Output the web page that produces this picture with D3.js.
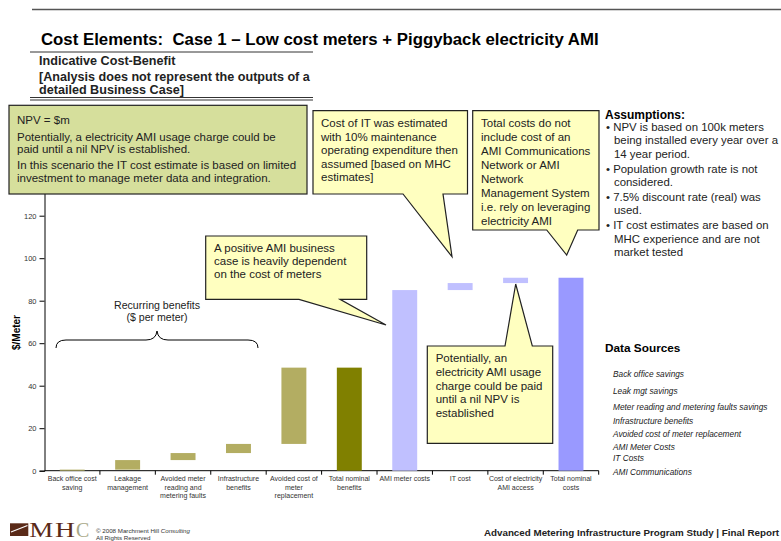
<!DOCTYPE html>
<html>
<head>
<meta charset="utf-8">
<script src="https://cdn.jsdelivr.net/npm/d3@7"></script>
<style>
  body { margin: 0; background: #fff; }
  svg { font-family: "Liberation Sans", Arial, sans-serif; display: block; }
</style>
</head>
<body>
<div id="chart"></div>
<script>
// chart data (waterfall: each bar runs from base to top, $/meter)
const categories = ['Back office cost saving', 'Leakage management', 'Avoided meter reading and metering faults',
  'Infrastructure benefits', 'Avoided cost of meter replacement', 'Total nominal benefits',
  'AMI meter costs', 'IT cost', 'Cost of electricity AMI access', 'Total nominal costs'];
const catLabels = [['Back office cost', 'saving'], ['Leakage', 'management'], ['Avoided meter', 'reading and', 'metering faults'],
  ['Infrastructure', 'benefits'], ['Avoided cost of', 'meter', 'replacement'], ['Total nominal', 'benefits'],
  ['AMI meter costs'], ['IT cost'], ['Cost of electricity', 'AMI access'], ['Total nominal', 'costs']];
const barBase = [0, 0.5, 5, 8.3, 12.6, 0, 0, 85, 88.3, 0];
const barTop = [0.5, 5, 8.3, 12.6, 48.5, 48.5, 85, 88.3, 90.8, 90.8];
const barKind = ['benefit', 'benefit', 'benefit', 'benefit', 'benefit', 'totalBenefit', 'cost', 'cost', 'cost', 'totalCost'];
const yTicks = [0, 20, 40, 60, 80, 100, 120];

const assumptions = [
  ['NPV is based on 100k meters', 'being installed every year over a', '14 year period.'],
  ['Population growth rate is not', 'considered.'],
  ['7.5% discount rate (real) was', 'used.'],
  ['IT cost estimates are based on', 'MHC experience and are not', 'market tested']
];
const dataSources = ['Back office savings', 'Leak mgt savings', 'Meter reading and metering faults savings',
  'Infrastructure benefits', 'Avoided cost of meter replacement', 'AMI Meter Costs', 'IT Costs', 'AMI Communications'];

const colors = { benefit: '#b3ad62', totalBenefit: '#808000', cost: '#c0c0ff', totalCost: '#9999ff' };

let svgWidth = 781;
let svgHeight = 541;

let svg = d3.select('#chart').append('svg')
  .attr('width', svgWidth)
  .attr('height', svgHeight);

// header
svg.append('line').attr('x1', 32).attr('x2', 781).attr('y1', 9.5).attr('y2', 9.5)
  .attr('stroke', '#555').attr('stroke-width', 1.5);
svg.append('text').attr('x', 41).attr('y', 44.5)
  .style('white-space', 'pre')
  .attr('font-size', '16.8px').attr('font-weight', 'bold').attr('fill', '#000')
  .text('Cost Elements:  Case 1 \u2013 Low cost meters + Piggyback electricity AMI');
svg.append('line').attr('x1', 30).attr('x2', 313).attr('y1', 52).attr('y2', 52)
  .attr('stroke', '#333').attr('stroke-width', 1);
let sub = ['Indicative Cost-Benefit', '[Analysis does not represent the outputs of a', 'detailed Business Case]'];
svg.selectAll('.sub').data(sub).enter().append('text')
  .attr('x', 39).attr('y', (d, i) => [65, 81, 94][i])
  .attr('font-size', '12.6px').attr('font-weight', 'bold').attr('fill', '#222')
  .text(d => d);
svg.append('line').attr('x1', 30).attr('x2', 313).attr('y1', 97.5).attr('y2', 97.5).attr('stroke', '#333');
svg.append('line').attr('x1', 30).attr('x2', 313).attr('y1', 100).attr('y2', 100).attr('stroke', '#333');

// scales
let xScale = d3.scaleBand()
  .domain(categories)
  .range([44.5, 598.7])
  .paddingInner(0.55)
  .paddingOuter(0.275);
let yScale = d3.scaleLinear().domain([0, 140]).range([470.7, 173.2]);

// y axis
let yAxis = svg.append('g')
  .attr('transform', 'translate(44.5,0)')
  .call(d3.axisLeft(yScale).tickValues(yTicks).tickSize(5).tickPadding(3));
yAxis.select('.domain').attr('stroke', '#000');
yAxis.selectAll('.tick line').attr('stroke', '#000');
yAxis.selectAll('text').attr('font-size', '7.5px').attr('fill', '#333')
  .attr('font-family', '"Liberation Sans", Arial, sans-serif');

svg.append('text')
  .attr('transform', 'translate(20, 332.5) rotate(-90)')
  .attr('text-anchor', 'middle')
  .attr('font-size', '10px').attr('font-weight', 'bold')
  .text('$/Meter');

// x axis line + separator ticks
let x0 = xScale.range()[0], x1 = xScale.range()[1];
svg.append('line').attr('x1', x0).attr('x2', x1).attr('y1', yScale(0)).attr('y2', yScale(0))
  .attr('stroke', '#000');
let sepX = categories.map(c => xScale(c) - xScale.step() * xScale.paddingInner() / 2).slice(1).concat([x1]);
svg.selectAll('.sep').data(sepX).enter().append('line')
  .attr('x1', d => d).attr('x2', d => d)
  .attr('y1', yScale(0)).attr('y2', yScale(0) + 4)
  .attr('stroke', '#000');

// x labels
let labelGroups = svg.selectAll('.xlab').data(categories).enter().append('text')
  .attr('text-anchor', 'middle')
  .attr('font-size', '7px').attr('fill', '#333');
labelGroups.each(function (d, i) {
  let cx = xScale(d) + xScale.bandwidth() / 2;
  d3.select(this).selectAll('tspan').data(catLabels[i]).enter().append('tspan')
    .attr('x', cx)
    .attr('y', (t, j) => yScale(0) + 10.5 + j * 8.5)
    .text(t => t);
});

// bars
svg.selectAll('.bar').data(categories).enter().append('rect')
  .attr('x', d => xScale(d))
  .attr('width', xScale.bandwidth())
  .attr('y', (d, i) => yScale(barTop[i]))
  .attr('height', (d, i) => yScale(barBase[i]) - yScale(barTop[i]))
  .attr('fill', (d, i) => colors[barKind[i]]);

// brace for recurring benefits
svg.append('path')
  .attr('d', 'M56,348 Q56,340 66,340 L146,340 Q156,340 157,331 Q158,340 168,340 L248,340 Q258,340 258,348')
  .attr('fill', 'none').attr('stroke', '#000').attr('stroke-width', 1);
svg.selectAll('.rec').data(['Recurring benefits', '($ per meter)']).enter().append('text')
  .attr('x', 157).attr('y', (d, i) => 309 + i * 12)
  .attr('text-anchor', 'middle').attr('font-size', '10.6px').attr('fill', '#222')
  .text(d => d);

// callouts
function drawLines(lines, tx, ty, lh) {
  svg.append('g').selectAll('text').data(lines).enter().append('text')
    .attr('x', tx).attr('y', (d, i) => ty + i * lh)
    .attr('font-size', '11.5px').attr('fill', '#222')
    .text(d => d);
}
function callout(box, ptr, fill, lines, tx, ty, lh) {
  let [x, y, w, h] = box;
  let [b1, b2, tipX, tipY] = ptr;
  let p = `M${x},${y} H${x + w} V${y + h} H${b2} L${tipX},${tipY} L${b1},${y + h} H${x} Z`;
  svg.append('path').attr('d', p)
    .attr('fill', fill).attr('stroke', '#222').attr('stroke-width', 1.2);
  drawLines(lines, tx, ty, lh);
}
function calloutUp(box, ptr, fill, lines, tx, ty, lh) {
  let [x, y, w, h] = box;
  let [b1, b2, tipX, tipY] = ptr;
  let p = `M${x},${y} H${b1} L${tipX},${tipY} L${b2},${y} H${x + w} V${y + h} H${x} Z`;
  svg.append('path').attr('d', p)
    .attr('fill', fill).attr('stroke', '#222').attr('stroke-width', 1.2);
  drawLines(lines, tx, ty, lh);
}

// NPV box (green)
svg.append('rect').attr('x', 9).attr('y', 105.3).attr('width', 298).attr('height', 88.7)
  .attr('fill', '#d6df9c').attr('stroke', '#222').attr('stroke-width', 1.2);
let npvLines = [['NPV = $m', 124], ['Potentially, a electricity AMI usage charge could be', 140.5],
  ['paid until a nil NPV is established.', 153], ['In this scenario the IT cost estimate is based on limited', 169],
  ['investment to manage meter data and integration.', 181.5]];
svg.selectAll('.npv').data(npvLines).enter().append('text')
  .attr('x', 17).attr('y', d => d[1])
  .attr('font-size', '11.5px').attr('fill', '#222')
  .text(d => d[0]);

callout([313, 110.7, 154.5, 83.3], [403, 443, 452, 256.7], '#ffffc0',
  ['Cost of IT was estimated', 'with 10% maintenance', 'operating expenditure then', 'assumed [based on MHC', 'estimates]'],
  321, 127.3, 13.5);
callout([472.7, 110.7, 126.3, 119.3], [546.7, 577.7, 566.7, 255], '#ffffc0',
  ['Total costs do not', 'include cost of an', 'AMI Communications', 'Network or AMI', 'Network', 'Management System',
    'i.e. rely on leveraging', 'electricity AMI'],
  481, 127.3, 13.9);
callout([205.7, 236, 161, 63.3], [299, 340, 386, 325], '#ffffc0',
  ['A positive AMI business', 'case is heavily dependent', 'on the cost of meters'],
  214, 252.3, 12.9);
calloutUp([427.3, 346, 125.4, 97.3], [505, 532.3, 515.7, 284], '#ffffc0',
  ['Potentially, an', 'electricity AMI usage', 'charge could be paid', 'until a nil NPV is', 'established'],
  435.7, 362.3, 13.6);

// assumptions panel
svg.append('text').attr('x', 605).attr('y', 119)
  .attr('font-size', '12px').attr('font-weight', 'bold').text('Assumptions:');
let ay = 131;
assumptions.forEach(function (item) {
  item.forEach(function (line, j) {
    svg.append('text')
      .attr('x', j === 0 ? 606 : 614).attr('y', ay)
      .attr('font-size', '11.4px').attr('fill', '#222')
      .text(j === 0 ? '\u2022 ' + line : line);
    ay += 13.3;
  });
  ay += 1.7;
});

svg.append('text').attr('x', 605).attr('y', 352)
  .attr('font-size', '11.8px').attr('font-weight', 'bold').text('Data Sources');
let dsY = [377, 394, 410, 424, 437, 450, 461, 475];
svg.selectAll('.ds').data(dataSources).enter().append('text')
  .attr('x', 613).attr('y', (d, i) => dsY[i])
  .attr('font-size', '8.3px').attr('font-style', 'italic').attr('fill', '#222')
  .text(d => d);

// footer
let logo = svg.append('g');
logo.append('rect').attr('x', 10).attr('y', 523.3).attr('width', 18.3).attr('height', 12.7).attr('fill', '#5a2a18');
logo.append('line').attr('x1', 11).attr('y1', 532).attr('x2', 27.5).attr('y2', 525.5)
  .attr('stroke', '#fff').attr('stroke-width', 1.2);
let logoLetters = [['M', 29.3, 24, '#5a2a18'], ['H', 55, 20, '#5a2a18'], ['C', 76, 13.3, '#a8a888']];
logo.selectAll('.lg').data(logoLetters).enter().append('text')
  .attr('x', d => d[1]).attr('y', 536.7)
  .attr('textLength', d => d[2]).attr('lengthAdjust', 'spacingAndGlyphs')
  .attr('font-family', '"Liberation Serif", serif').attr('font-size', '20px').attr('fill', d => d[3])
  .text(d => d[0]);
let copy = svg.append('text').attr('x', 96).attr('y', 532.5).attr('font-size', '6.2px').attr('fill', '#333');
copy.append('tspan').text('\u00a9 2008 Marchment Hill ');
copy.append('tspan').attr('font-style', 'italic').text('Consulting');
svg.append('text').attr('x', 96).attr('y', 540).attr('font-size', '6.2px').attr('fill', '#333')
  .text('All Rights Reserved');
svg.append('text').attr('x', 779).attr('y', 536).attr('text-anchor', 'end')
  .attr('font-size', '9.8px').attr('font-weight', 'bold').attr('fill', '#222')
  .text('Advanced Metering Infrastructure Program Study | Final Report');
</script>
</body>
</html>
